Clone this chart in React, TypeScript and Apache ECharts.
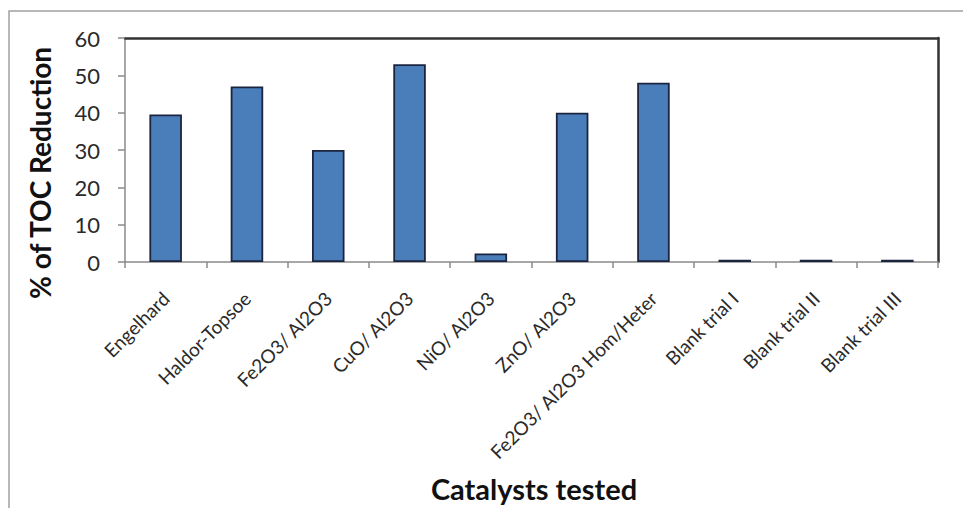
import React, { useEffect, useRef } from "react";
import * as echarts from "echarts";

const categories = [
  "Engelhard",
  "Haldor-Topsoe",
  "Fe2O3/ Al2O3",
  "CuO/ Al2O3",
  "NiO/ Al2O3",
  "ZnO/ Al2O3",
  "Fe2O3/ Al2O3 Hom/Heter",
  "Blank trial I",
  "Blank trial II",
  "Blank trial III",
];
const tocReduction = [39.5, 47, 30, 53, 2.3, 40, 48, 0.6, 0.6, 0.6];
const yMin = 0;
const yMax = 60;
const yStep = 10;
const yAxisTitle = "% of TOC Reduction";
const xAxisTitle = "Catalysts tested";

const FONT = "Lato, 'Open Sans', sans-serif";

export default function App() {
  const ref = useRef<HTMLDivElement>(null);
  useEffect(() => {
    if (!ref.current) return;
    const chart = echarts.init(ref.current, undefined, { renderer: "svg" });
    chart.setOption({
      animation: false,
      backgroundColor: "#ffffff",
      textStyle: { fontFamily: FONT },
      grid: { left: 125, right: 25, top: 38, bottom: 246 },
      xAxis: [
        {
          type: "category",
          data: categories,
          axisLine: { lineStyle: { color: "#8a8a8a", width: 1.5 } },
          axisTick: { show: true, length: 6, lineStyle: { color: "#8a8a8a", width: 1.5 } },
          axisLabel: {
            interval: 0,
            rotate: 45,
            fontSize: 19,
            color: "#2a2a2a",
            margin: 33,
            fontFamily: FONT,
          },
        },
        {
          type: "category",
          position: "top",
          data: categories,
          axisLine: { show: true, onZero: false, lineStyle: { color: "#333", width: 2.5 } },
          axisTick: { show: false },
          axisLabel: { show: false },
        },
      ],
      yAxis: [
        {
          type: "value",
          min: yMin,
          max: yMax,
          interval: yStep,
          axisLine: { show: true, lineStyle: { color: "#8a8a8a", width: 1.5 } },
          axisTick: { show: true, length: 7, lineStyle: { color: "#8a8a8a", width: 1.5 } },
          splitLine: { show: false },
          axisLabel: { fontSize: 22, color: "#2a2a2a", margin: 25, fontFamily: FONT },
        },
        {
          type: "value",
          position: "right",
          min: yMin,
          max: yMax,
          axisLine: { show: true, onZero: false, lineStyle: { color: "#333", width: 2.5 } },
          axisTick: { show: false },
          axisLabel: { show: false },
          splitLine: { show: false },
        },
      ],
      series: [
        {
          type: "bar",
          data: tocReduction,
          xAxisIndex: 0,
          yAxisIndex: 0,
          barWidth: "40%",
          itemStyle: { color: "#4a7ebb", borderColor: "#1c2540", borderWidth: 1.8 },
        },
      ],
      graphic: [
        {
          type: "rect",
          shape: { x: 9, y: 11, width: 1000, height: 600 },
          style: { fill: "none", stroke: "#a0a0a0", lineWidth: 1.5 },
          silent: true,
        },
        {
          type: "text",
          x: 40,
          y: 173,
          rotation: Math.PI / 2,
          style: {
            text: yAxisTitle,
            fontSize: 28,
            fontWeight: "bold",
            fontFamily: FONT,
            fill: "#111",
            textAlign: "center",
            textVerticalAlign: "middle",
            align: "center",
            verticalAlign: "middle",
          },
        },
        {
          type: "text",
          x: 534,
          y: 488,
          style: {
            text: xAxisTitle,
            fontSize: 29,
            fontWeight: "bold",
            fontFamily: FONT,
            fill: "#111",
            textAlign: "center",
            textVerticalAlign: "middle",
            align: "center",
            verticalAlign: "middle",
          },
        },
      ],
    });
    return () => chart.dispose();
  }, []);
  return (
    <div
      ref={ref}
      style={{ position: "fixed", left: 0, top: 0, width: 963, height: 508 }}
    />
  );
}
